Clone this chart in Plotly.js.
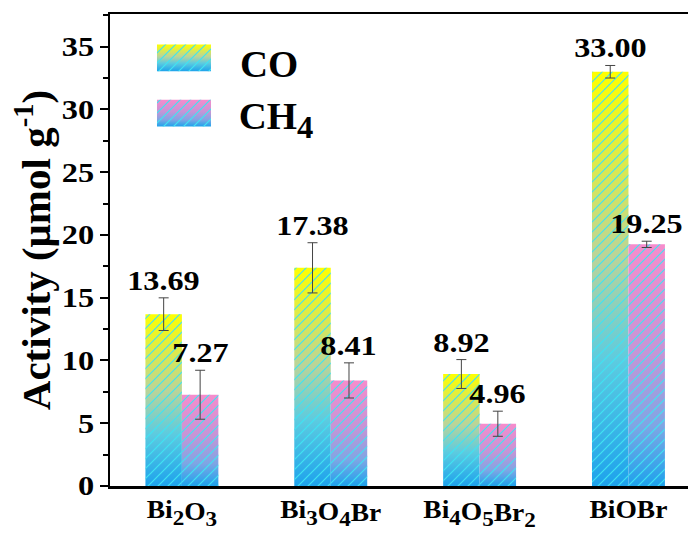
<!DOCTYPE html>
<html>
<head>
<meta charset="utf-8">
<script src="https://cdn.plot.ly/plotly-3.0.1.min.js"></script>
<style>
  html, body { margin: 0; padding: 0; background: #fff; }
  #chart { width: 688px; height: 533px; }
</style>
</head>
<body>
<div id="chart"></div>
<script>
// ---- data ----
const categories = ['Bi<sub>2</sub>O<sub>3</sub>', 'Bi<sub>3</sub>O<sub>4</sub>Br', 'Bi<sub>4</sub>O<sub>5</sub>Br<sub>2</sub>', 'BiOBr'];
const coValues = [13.69, 17.38, 8.92, 33.00];
const coErrors = [1.3, 2.0, 1.15, 0.5];
const ch4Values = [7.27, 8.41, 4.96, 19.25];
const ch4Errors = [1.95, 1.4, 1.0, 0.25];
const seriesNames = ['CO', 'CH<sub>4</sub>'];
const yTickVals = [0, 5, 10, 15, 20, 25, 30, 35];
const yTitle = 'Activity (μmol g<sup>-1</sup>)';

// ---- style ----
const FONT = '"Liberation Serif"';
const xIdx = categories.map((c, i) => i);
const BARGAP = 0.51;
const barW = (1 - BARGAP) / 2;
const gradStops = [
  [['0', '#ffff00'], ['0.45', '#b9d49a'], ['0.7', '#5ccbe0'], ['1', '#1ea2ec']],
  [['0', '#f68ccc'], ['0.45', '#c595d6'], ['0.75', '#7fa6e4'], ['1', '#1ea2ec']]
];

const errStyle = (arr) => ({ type: 'data', array: arr, visible: true, color: '#444', thickness: 1, width: 5 });

const data = [
  { type: 'bar', name: 'CO', x: xIdx, y: coValues, error_y: errStyle(coErrors),
    marker: { color: '#a6d6a0', line: { width: 0 } }, hoverinfo: 'none' },
  { type: 'bar', name: 'CH4', x: xIdx, y: ch4Values, error_y: errStyle(ch4Errors),
    marker: { color: '#b79ad8', line: { width: 0 } }, hoverinfo: 'none' }
];

const annotations = [];
[[coValues, coErrors, -1], [ch4Values, ch4Errors, 1]].forEach(([vals, errs, side]) => {
  vals.forEach((v, i) => {
    annotations.push({
      x: i + side * barW / 2, y: v + errs[i], xref: 'x', yref: 'y',
      text: '<b>' + v.toFixed(2) + '</b>', showarrow: false, yanchor: 'bottom', yshift: 0,
      font: { family: FONT, size: 28, color: '#000' }
    });
  });
});
// legend labels
const legendY = [0.893, 0.776];
seriesNames.forEach((n, k) => {
  annotations.push({
    x: 0.222, y: legendY[k], xref: 'paper', yref: 'paper', xanchor: 'left', yanchor: 'middle',
    text: '<b>' + n + '</b>', showarrow: false, font: { family: FONT, size: 37, color: '#000' }
  });
});

const shapes = [0.907, 0.790].map(y => ({
  type: 'rect', xref: 'paper', yref: 'paper', layer: 'above',
  x0: 0.0813, x1: 0.1747, y0: y - 0.0285, y1: y + 0.0285,
  line: { width: 0 }, fillcolor: '#a6d6a0'
}));

const layout = {
  width: 688, height: 533,
  margin: { l: 110, r: 0, t: 14, b: 47 },
  paper_bgcolor: '#fff', plot_bgcolor: '#fff',
  showlegend: false,
  barmode: 'group', bargap: BARGAP, bargroupgap: 0,
  font: { family: FONT, color: '#000' },
  xaxis: {
    range: [-0.483, 3.40], tickvals: xIdx, ticktext: categories.map(c => '<b>' + c + '</b>'),
    showline: true, linecolor: '#000', linewidth: 2.5, mirror: true,
    ticks: '', showgrid: false, zeroline: false,
    tickfont: { family: FONT, size: 25, color: '#000' }
  },
  yaxis: {
    range: [0, 37.6], tickvals: yTickVals, ticktext: yTickVals.map(v => '<b>' + v + '</b>'),
    showline: true, linecolor: '#000', linewidth: 2.5,
    ticks: 'outside', ticklen: 8, tickwidth: 2, tickcolor: '#000',
    minor: { dtick: 2.5, tick0: 0, ticks: 'outside', ticklen: 5, tickwidth: 2, tickcolor: '#000', showgrid: false },
    showgrid: false, zeroline: false,
    tickfont: { family: FONT, size: 27, color: '#000' },
    title: { text: '<b>' + yTitle + '</b>', font: { family: FONT, size: 41, color: '#000' }, standoff: 4 }
  },
  annotations: annotations,
  shapes: shapes
};

Plotly.newPlot('chart', data, layout, { staticPlot: true }).then(gd => {
  const NS = 'http://www.w3.org/2000/svg';
  const svg = gd.querySelector('svg.main-svg');
  let defs = svg.querySelector('defs');
  if (!defs) { defs = document.createElementNS(NS, 'defs'); svg.insertBefore(defs, svg.firstChild); }
  gradStops.forEach((stops, k) => {
    const g = document.createElementNS(NS, 'linearGradient');
    g.setAttribute('id', 'bargrad' + k);
    g.setAttribute('x1', '0'); g.setAttribute('y1', '0'); g.setAttribute('x2', '0'); g.setAttribute('y2', '1');
    stops.forEach(([o, c]) => {
      const s = document.createElementNS(NS, 'stop');
      s.setAttribute('offset', o); s.setAttribute('stop-color', c);
      g.appendChild(s);
    });
    defs.appendChild(g);
  });
  const pat = document.createElementNS(NS, 'pattern');
  pat.setAttribute('id', 'hatch');
  pat.setAttribute('patternUnits', 'userSpaceOnUse');
  pat.setAttribute('width', '10'); pat.setAttribute('height', '10');
  const pl = document.createElementNS(NS, 'path');
  pl.setAttribute('d', 'M0,10 L10,0 M-2,2 L2,-2 M8,12 L12,8');
  pl.setAttribute('stroke', '#3fe3f2'); pl.setAttribute('stroke-width', '1.2'); pl.setAttribute('fill', 'none');
  pat.appendChild(pl);
  defs.appendChild(pat);

  const decorate = (p, k) => {
    p.style.fill = 'url(#bargrad' + k + ')';
    p.style.fillOpacity = 1;
    const c = p.cloneNode(true);
    c.style.fill = 'url(#hatch)';
    p.parentNode.insertBefore(c, p.nextSibling);
  };
  gd.querySelectorAll('.barlayer .trace').forEach((tr, k) => {
    tr.querySelectorAll('.point path').forEach(p => decorate(p, k));
  });
  gd.querySelectorAll('.layer-above .shapelayer path').forEach((p, k) => decorate(p, k));

  // enlarge subscripts slightly (reference subscripts are near full size)
  gd.querySelectorAll('.xtick text tspan, .annotation-text tspan').forEach(ts => {
    const fsAttr = ts.style.fontSize || '';
    if (fsAttr.indexOf('%') > 0 && /^\d$/.test(ts.textContent.trim())) {
      ts.style.fontSize = '84%';
    }
  });

  // the reference typography is horizontally widened; stretch text glyphs about an anchor
  function stretch0(t, s, anchor) {
    const b = t.getBBox();
    const cx = anchor === 'right' ? b.x + b.width : anchor === 'left' ? b.x : b.x + b.width / 2;
    const prev = t.getAttribute('transform') || '';
    t.setAttribute('transform', (prev + ' translate(' + cx + ',0) scale(' + s + ',1) translate(' + (-cx) + ',0)').trim());
  }
  gd.querySelectorAll('.ytick text').forEach(t => stretch0(t, 1.2, 'right'));
  gd.querySelectorAll('.xtick text').forEach(t => stretch0(t, 1.1, 'center'));
  gd.querySelectorAll('.annotation-text').forEach((t, i) => {
    if (i < coValues.length + ch4Values.length) stretch0(t, 1.15, 'center');
    else stretch0(t, 1.05, 'left');
  });
});
</script>
</body>
</html>
